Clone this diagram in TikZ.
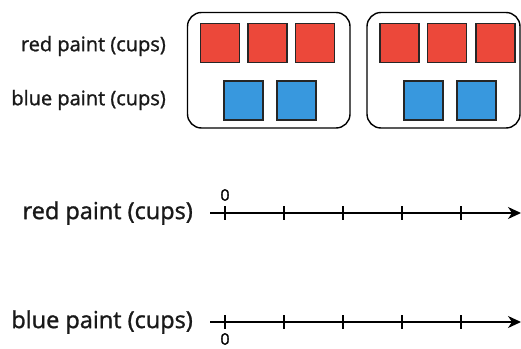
\documentclass[tikz,border=0pt]{standalone}
\usepackage{fontspec}
\setmainfont{Open Sans}
\newfontfamily\lblfont{Open Sans}[FakeBold=1.2]
\usetikzlibrary{arrows.meta}
\definecolor{paintred}{RGB}{236,72,58}
\definecolor{paintblue}{RGB}{56,152,222}
\tikzset{
  group/.style={draw=black, line width=1.4pt, rounded corners=14pt},
  cup/.style={draw=black!85, line width=1.6pt, minimum width=39pt, minimum height=39pt, inner sep=0pt},
  redcup/.style={cup, fill=paintred},
  bluecup/.style={cup, fill=paintblue},
  toplabel/.style={anchor=east, font=\lblfont\fontsize{20}{21}\selectfont, text=black!90, inner sep=0pt},
  linelabel/.style={anchor=east, font=\lblfont\fontsize{23.5}{25}\selectfont, text=black!90, inner sep=0pt},
  axis/.style={line width=1.4pt, -{Stealth[length=13pt,width=12pt,inset=4pt]}},
  tick/.style={line width=1.3pt},
  zero/.style={font=\lblfont\fontsize{16}{18}\selectfont, inner sep=0pt}
}
\begin{document}
\begin{tikzpicture}[x=1pt,y=-1pt]
\useasboundingbox (0,0) rectangle (521,348);

% tape diagram: two groups of 3 red and 2 blue cups
\draw[group] (187.5,12.5) rectangle (350,128);
\draw[group] (367,12.5) rectangle (520,128);

\node[redcup] (r1) at (220,43) {};
\node[redcup] (r2) at (267.5,43) {};
\node[redcup] (r3) at (315,43) {};
\node[redcup] (r4) at (399.5,43) {};
\node[redcup] (r5) at (447,43) {};
\node[redcup] (r6) at (495.5,43) {};

\node[bluecup] (b1) at (243.5,100.5) {};
\node[bluecup] (b2) at (296.5,100.5) {};
\node[bluecup] (b3) at (423.5,100.5) {};
\node[bluecup] (b4) at (476.5,100.5) {};

\node[toplabel] (lr) at (166,46) {red paint (cups)};
\node[toplabel] (lb) at (166,100) {blue paint (cups)};

% double number line
\node[linelabel] (nr) at (193,213) {red paint (cups)};
\node[linelabel] (nb) at (193,322) {blue paint (cups)};

\coordinate (ra) at (210,213);
\coordinate (rb) at (521,213);
\coordinate (ba) at (210,322);
\coordinate (bb) at (521,322);
\draw[axis] (ra) -- (rb);
\draw[axis] (ba) -- (bb);

\foreach \x in {225,284,343,402,461}{
  \draw[tick] (\x,206) -- (\x,220);
  \draw[tick] (\x,315) -- (\x,329);
}
\node[zero] (z1) at (225,195) {0};
\node[zero] (z2) at (225,339) {0};
\end{tikzpicture}
\end{document}
